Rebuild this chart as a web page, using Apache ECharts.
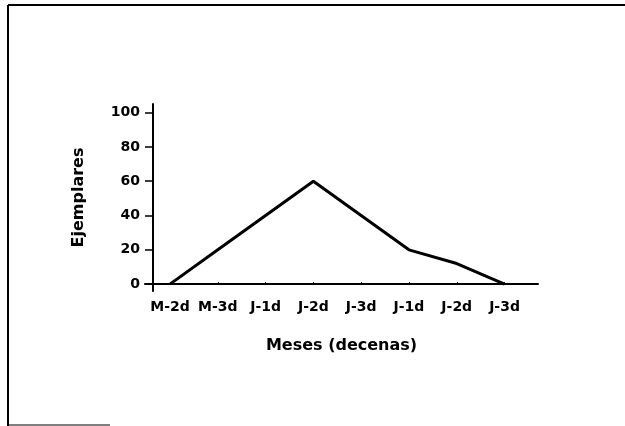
<!DOCTYPE html>
<html><head><meta charset="utf-8">
<script src="https://cdn.jsdelivr.net/npm/echarts@6/dist/echarts.min.js"></script>
<style>html,body{margin:0;padding:0;background:#fff}#c{width:625px;height:426px}</style>
</head><body><div id="c"></div>
<script>
const categories = ["M-2d","M-3d","J-1d","J-2d","J-3d","J-1d","J-2d","J-3d"];
const ejemplares = [0, 20, 40, 60, 40, 20, 12, 0];
const yTicks = [0, 20, 40, 60, 80, 100];

const idx = categories.map((c, i) => i);
const seriesData = ejemplares.map((v, i) => [i, v]);
const font = '"DejaVu Sans"';

const chart = echarts.init(document.getElementById('c'), null, {renderer: 'canvas'});
chart.setOption({
  animation: false,
  backgroundColor: '#fff',
  grid: {left: 145, right: 87, top: 104, bottom: 135},
  xAxis: {
    type: 'value', min: -0.523, max: 7.70,
    splitLine: {show: false},
    axisLine: {show: true, onZero: true, lineStyle: {color: '#000', width: 2}},
    axisTick: {show: true, inside: true, length: 2, customValues: idx, lineStyle: {color: '#000', width: 1}},
    axisLabel: {customValues: idx, margin: 9, color: '#000', fontFamily: font, fontSize: 14, fontWeight: 'bold',
      formatter: v => categories[Math.round(v)] || ''},
    name: 'Meses (decenas)', nameLocation: 'middle', nameGap: 47,
    nameTextStyle: {color: '#000', fontFamily: font, fontSize: 16, fontWeight: 'bold'}
  },
  yAxis: {
    type: 'value', min: -4, max: 105, offset: -8,
    splitLine: {show: false},
    axisLine: {show: true, onZero: false, lineStyle: {color: '#000', width: 2}},
    axisTick: {show: true, length: 8, customValues: yTicks, lineStyle: {color: '#000', width: 1.5}},
    axisLabel: {customValues: yTicks, margin: 13, color: '#000', fontFamily: font, fontSize: 14, fontWeight: 'bold'},
    name: 'Ejemplares', nameLocation: 'middle', nameGap: 66, nameRotate: 90,
    nameTextStyle: {color: '#000', fontFamily: font, fontSize: 16, fontWeight: 'bold'}
  },
  series: [{
    type: 'line', data: seriesData, showSymbol: false, symbol: 'none',
    lineStyle: {color: '#000', width: 3}
  }],
  graphic: [
    {type: 'line', shape: {x1: 8, y1: 5, x2: 625, y2: 5}, style: {stroke: '#000', lineWidth: 2}},
    {type: 'line', shape: {x1: 8, y1: 5, x2: 8, y2: 426}, style: {stroke: '#000', lineWidth: 2}},
    {type: 'line', shape: {x1: 8, y1: 425, x2: 110, y2: 425}, style: {stroke: '#000', lineWidth: 1}}
  ]
});
</script></body></html>
